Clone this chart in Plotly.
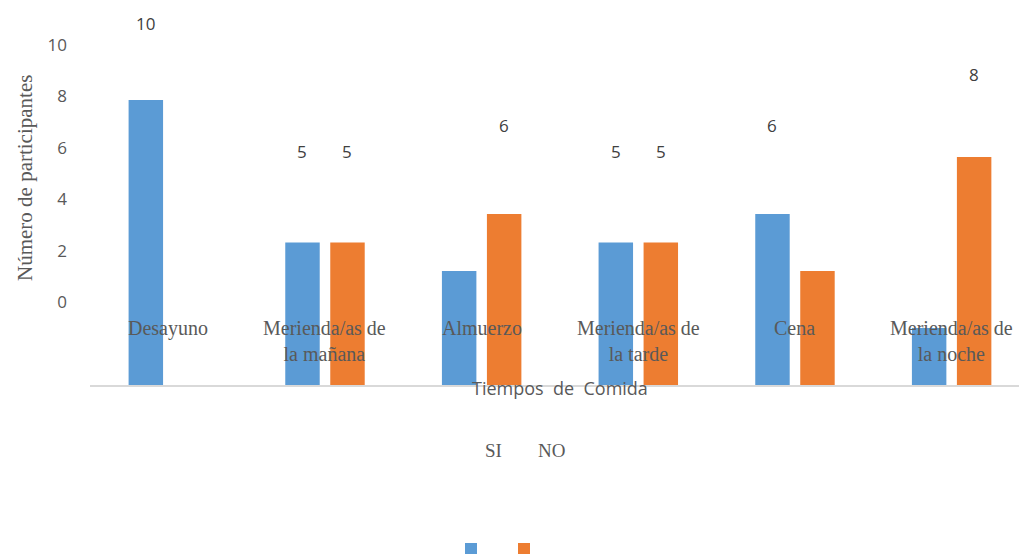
import plotly.graph_objects as go

categories = ["Desayuno", "Merienda/as de la mañana", "Almuerzo",
              "Merienda/as de la tarde", "Cena", "Merienda/as de la noche"]
category_labels = ["Desayuno", "Merienda/as de<br>la mañana", "Almuerzo",
                   "Merienda/as de<br>la tarde", "Cena", "Merienda/as de<br>la noche"]
si_values = [10, 5, 4, 5, 6, 2]
no_values = [0, 5, 6, 5, 4, 8]
y_ticks = [0, 2, 4, 6, 8, 10]

BLUE = "#5b9bd5"
ORANGE = "#ed7d31"
GREY = "#595959"

W, H = 1019, 554
PLOT_L, PLOT_T, PLOT_B = 90, 0, 385   # plot area in pixels
PX_PER_UNIT = 28.5                     # bar scale
BAR_W = 0.22
HALF_GAP = 0.1436
plot_w = W - PLOT_L
plot_h = PLOT_B - PLOT_T


def px_x(px):
    return (px - PLOT_L) / plot_w


def px_y(py):
    return 1 - (py - PLOT_T) / plot_h


fig = go.Figure()
fig.add_trace(go.Bar(x=categories, y=si_values, name="", marker_color=BLUE,
                     width=BAR_W, offset=-HALF_GAP - BAR_W / 2,
                     marker_line_width=0, legend="legend"))
fig.add_trace(go.Bar(x=categories, y=no_values, name="", marker_color=ORANGE,
                     width=BAR_W, offset=HALF_GAP - BAR_W / 2,
                     marker_line_width=0, legend="legend2"))
# invisible helper trace so the secondary value axis is drawn
fig.add_trace(go.Scatter(x=[categories[0]], y=[0], yaxis="y2", mode="markers",
                         marker=dict(opacity=0), showlegend=False, hoverinfo="skip"))

annotations = []

# value labels (only the larger values carry a label)
for vals, dx in ((si_values, -22.5), (no_values, 22.5)):
    for c, v in zip(categories, vals):
        if v >= 5:
            annotations.append(dict(x=c, y=v, xref="x", yref="y2", text=str(v),
                                    showarrow=False, xshift=dx, yshift=22,
                                    font=dict(family="Open Sans", size=17, color="#404040")))

# category names written inside the plot area
for c, lab in zip(categories, category_labels):
    annotations.append(dict(x=c, y=px_y(315), xref="x", yref="paper",
                            text=lab, showarrow=False, yanchor="top",
                            font=dict(family="Liberation Serif", size=20, color=GREY)))

# axis titles
annotations.append(dict(x=px_x(560), y=px_y(388), xref="paper", yref="paper",
                        xanchor="center", yanchor="middle",
                        text="Tiempos  de  Comida", showarrow=False,
                        font=dict(family="Open Sans", size=18, color=GREY)))
annotations.append(dict(x=px_x(25), y=px_y(178), xref="paper", yref="paper",
                        xanchor="center", yanchor="middle",
                        text="Número de participantes", textangle=-90, showarrow=False,
                        font=dict(family="Liberation Serif", size=21, color=GREY)))

# legend captions
for txt, xc in (("SI", 493), ("NO", 551)):
    annotations.append(dict(x=px_x(xc), y=px_y(450), xref="paper", yref="paper",
                            xanchor="center", yanchor="middle",
                            text=txt, showarrow=False,
                            font=dict(family="Liberation Serif", size=19, color=GREY)))

y2_range = [-(PLOT_B - 302) / 25.7, 10 + (45 - PLOT_T) / 25.7]

legend_common = dict(orientation="h", xanchor="left", yanchor="middle",
                     y=px_y(549), itemwidth=30, font=dict(size=1),
                     bgcolor="rgba(0,0,0,0)")

fig.update_layout(
    width=W, height=H,
    margin=dict(l=PLOT_L, r=0, t=PLOT_T, b=H - PLOT_B, pad=0, autoexpand=False),
    paper_bgcolor="white", plot_bgcolor="white",
    barmode="overlay",
    showlegend=True,
    legend=dict(x=px_x(451), **legend_common),
    legend2=dict(x=px_x(504), **legend_common),
    xaxis=dict(range=[-0.5, 5.43], showticklabels=False, ticks="", showgrid=False,
               showline=True, linecolor="#d9d9d9", linewidth=1.5, zeroline=False),
    yaxis=dict(range=[0, plot_h / PX_PER_UNIT], visible=False, showgrid=False),
    yaxis2=dict(range=y2_range, overlaying="y", side="left", tickvals=y_ticks,
                showgrid=False, zeroline=False, showline=False, ticks="",
                ticklabelstandoff=22,
                tickfont=dict(family="Open Sans", size=17, color=GREY)),
    annotations=annotations,
)

fig.write_html("out.html")
